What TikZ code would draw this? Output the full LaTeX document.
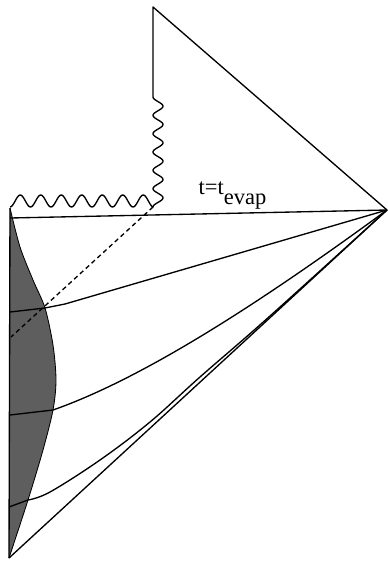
\documentclass[tikz,border=0pt]{standalone}
\usepackage{fontspec}
\setmainfont{Liberation Serif}
\definecolor{stargray}{HTML}{5E5E5E}

\begin{document}
\begin{tikzpicture}[x=0.025cm,y=-0.025cm,line width=0.95pt,line join=round]
\tikzset{slice/.style={smooth,tension=0.6},
  horizonline/.style={dash pattern=on 3.2pt off 2.4pt}}
\useasboundingbox (0,0) rectangle (388,562);
% corners of the diagram
\coordinate (top) at (153,7);
\coordinate (kink) at (153,97);
\coordinate (hor) at (153,207);
\coordinate (corner) at (10,208);
\coordinate (io) at (387,210);
\coordinate (im) at (9,558);
\coordinate (evapL) at (10,218);
% collapsing star
\fill[stargray] (corner) plot[smooth] coordinates {(10,208) (20,247) (33,280) (45,308) (53,345) (56,380) (53,410) (43,450) (28,500) (9,558)} -- cycle;
\draw[line width=0.6pt] plot[smooth] coordinates {(10,208) (20,247) (33,280) (45,308) (53,345) (56,380) (53,410) (43,450) (28,500) (9,558)};
\draw (corner)--(im);
% boundaries
\draw (kink)--(top)--(io)--(im);
\draw plot[domain=10:153.5,samples=120] (\x,{201+6*cos((\x-10)*17.561)});
\draw plot[domain=97:207,samples=120] ({158-5*cos((\x-97)*19.636)},\x);
% horizon
\draw[horizonline] (hor)--(11,337);
% slices
\draw (evapL)--(io);
\draw (10,312)--(45,308) .. controls (55,306.5) .. (65,304)--(io);
\draw (10,415)--(53,410) .. controls (150,376) and (275,292) .. (io);
\draw (9,507)--(28,500) plot[slice] coordinates {(28,500) (50,492) (100,460) (150,422) (200,377) (270,316) (387,210)};
\node[anchor=base west,inner sep=0pt,font=\fontsize{16}{19}\selectfont] (lab) at (198,194) {t=t\raisebox{-0.45em}{evap}};
\end{tikzpicture}
\end{document}
